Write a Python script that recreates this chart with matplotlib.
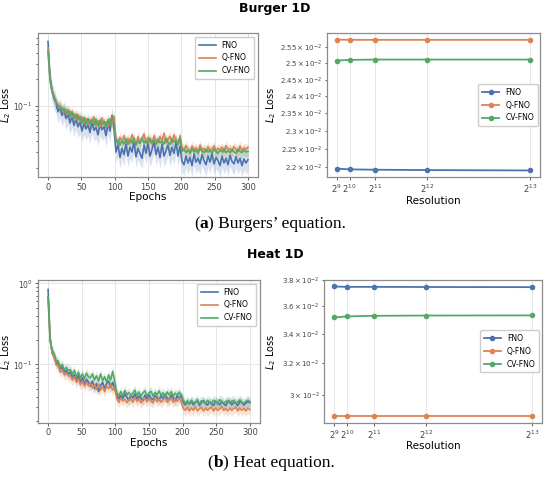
import numpy as np
import matplotlib
matplotlib.use("Agg")
import matplotlib.pyplot as plt

# ---------------- data ----------------
epochs = list(range(0, 301, 3))
models = ["FNO", "Q-FNO", "CV-FNO"]

# Burgers training loss (x1e-3), every 3 epochs
burger_fno = [540, 215, 150, 122, 108, 86, 98, 78, 90, 72,
              82, 64, 76, 60, 72, 58, 66, 52, 63, 55,
              61, 50, 66, 53, 57, 47, 62, 54, 58, 46,
              64, 52, 78, 55, 30, 36, 26, 33, 28, 37,
              27, 34, 30, 39, 26.5, 33, 29, 25.5, 36, 29,
              38, 27, 32, 40, 28, 34, 26, 37, 27, 31,
              36, 27.5, 34, 29, 39, 27, 35, 23.5, 21.5, 27,
              22.5, 26, 21, 28.5, 23, 25.5, 22, 28, 24, 21.5,
              27, 23, 28.5, 22, 26, 24, 21, 27, 22.5, 25.5,
              21.5, 27.5, 23.5, 22, 26.5, 22.5, 25.5, 21, 25, 22.5,
              24.5]
burger_q = [460, 195, 150, 130, 108, 104, 94, 96, 84, 92,
            80, 88, 74, 82, 70, 80, 66, 75, 63, 72,
            62, 70, 64, 75, 60, 68, 58, 73, 62, 66,
            58, 72, 64, 76, 42, 37, 44, 39, 46, 37.5,
            43, 38, 47, 40, 36.5, 45, 39, 42, 48, 38,
            44, 39, 37, 46, 41, 38.5, 45, 40, 49, 38,
            42, 45, 38, 47, 40, 37, 46, 34, 31, 35.5,
            32, 30.5, 35, 31.5, 33.5, 30, 36, 31, 33, 30,
            34.5, 31, 32.5, 35, 30.5, 33, 31.5, 34, 30, 35.5,
            31.5, 33, 30.5, 34.5, 32, 30, 35, 31, 33.5, 32,
            34]
burger_cv = [420, 205, 145, 126, 112, 98, 100, 88, 94, 82,
             90, 76, 86, 72, 80, 70, 76, 64, 74, 62,
             72, 62, 70, 60, 71, 59, 69, 61, 67, 57,
             70, 60, 76, 63, 38.5, 41, 36, 40.5, 37, 42,
             36.5, 41.5, 38, 43, 36, 40, 37.5, 43.5, 38, 40.5,
             37, 43, 38.5, 41, 36.5, 42, 38, 40, 37, 43,
             38.5, 36.5, 42, 39, 41.5, 36.5, 43, 30.5, 32.5, 29.5,
             31.5, 29, 32.5, 30, 31.5, 29, 33, 30.5, 29.5, 32,
             30, 31.5, 29, 32.5, 30.5, 29, 31.5, 30, 32.5, 29.5,
             31, 29.5, 32, 30, 29, 32.5, 30.5, 29.5, 31.5, 30,
             30.5]

# Heat training loss (x1e-3), every 3 epochs
heat_fno = [840, 205, 140, 125, 104, 102, 88, 92, 80, 84,
            76, 80, 70, 74, 64, 72, 60, 68, 57, 65,
            60, 54, 62, 50, 58, 46, 55, 60, 50, 58,
            62, 52, 60, 50, 42, 37.5, 41, 38, 43, 39.5,
            36, 41, 38.5, 43, 37, 40.5, 38, 35.5, 41.5, 37.5,
            42, 38, 36.5, 41, 39, 36, 41.5, 37.5, 42.5, 38,
            36.5, 41.5, 38.5, 35.5, 41, 37.5, 42, 34, 31.5, 34.5,
            32, 35, 31.5, 34, 35, 31, 34, 35.5, 32.5, 31.5,
            34.5, 32.5, 31, 35, 33.5, 31.5, 34.5, 32.5, 31, 34,
            35, 31.5, 34, 33, 31, 34.5, 33.5, 31.5, 33, 34.5,
            33.5]
heat_q = [680, 215, 135, 124, 98, 96, 80, 86, 74, 78,
          72, 72, 64, 70, 60, 66, 56, 62, 54, 60,
          54, 58, 51, 56, 49, 57, 48, 53, 46, 54,
          50, 56, 48, 52, 38, 34, 38.5, 35.5, 37, 33.5,
          36.5, 38, 34, 39, 35, 37.5, 33.5, 36, 38.5, 34.5,
          38, 35, 33.5, 39, 34.5, 37.5, 34, 36.5, 39, 34,
          36.5, 38, 34, 37, 35, 38.5, 34.5, 28.5, 27, 29.5,
          26.5, 29, 27, 30, 26.5, 28.5, 29.5, 26.5, 29, 27,
          28.5, 29.5, 26.5, 29, 27, 28, 30, 27, 28.5, 26.5,
          29, 27, 28.5, 29.5, 26.5, 29, 27, 28.5, 26.5, 29,
          27.5]
heat_cv = [680, 195, 150, 135, 112, 110, 92, 100, 84, 92,
           84, 86, 76, 84, 70, 80, 68, 76, 66, 78,
           70, 68, 76, 64, 72, 62, 76, 63, 70, 60,
           74, 64, 82, 62, 45, 40.5, 46, 41, 47.5, 42,
           45, 40.5, 44, 48, 41, 45.5, 40, 44.5, 47, 41,
           44, 46.5, 40.5, 45, 42, 47, 41, 44.5, 40, 45.5,
           42, 46, 40.5, 44, 41.5, 45.5, 40.5, 36, 33, 35.5,
           32.5, 36, 33.5, 34, 36.5, 32.5, 35.5, 34, 32.5, 36,
           34, 33, 36, 34.5, 32.5, 36.5, 35, 33, 34.5, 36,
           33, 35, 36, 33, 34.5, 36.5, 34, 33, 35, 36,
           34.5]

# relative spread of shaded band per series
burger_spread = [0.25, 0.14, 0.14]
heat_spread = [0.13, 0.15, 0.15]

# Resolution study
resolutions = [512, 1024, 2048, 4096, 8192]
res_labels = ["$2^{9}$", "$2^{10}$", "$2^{11}$", "$2^{12}$", "$2^{13}$"]
burger_res_fno = [0.02195, 0.02193, 0.02192, 0.02191, 0.02190]
burger_res_q = [0.02575, 0.02574, 0.02574, 0.02574, 0.02574]
burger_res_cv = [0.02509, 0.02511, 0.02512, 0.02512, 0.02512]
heat_res_fno = [0.03750, 0.03747, 0.03747, 0.03746, 0.03745]
heat_res_q = [0.02870, 0.02870, 0.02870, 0.02870, 0.02870]
heat_res_cv = [0.03518, 0.03526, 0.03530, 0.03532, 0.03533]

colors = ["#4c72b0", "#dd8452", "#55a868"]

# ---------------- figure ----------------
W, H = 550, 482
fig = plt.figure(figsize=(W / 100, H / 100), dpi=100)


def style(ax):
    for s in ax.spines.values():
        s.set_color("#8c8c8c")
        s.set_linewidth(0.9)
    ax.tick_params(which="both", labelsize=6, colors="#444444", length=2, width=0.6, pad=2)
    ax.tick_params(which="minor", length=1.5)
    ax.grid(True, color="#e6e6e6", linewidth=0.7)
    ax.set_axisbelow(True)


def ax_box(x0, y0, x1, y1):
    return fig.add_axes([x0 / W, 1 - y1 / H, (x1 - x0) / W, (y1 - y0) / H])


def train_panel(ax, series, spreads, ylim, ylab_x):
    ep = np.array(epochs)
    for name, vals, c, s in zip(models, series, colors, spreads):
        v = np.array(vals) * 1e-3
        ax.fill_between(ep, v * (1 - s), v * (1 + s), color=c, alpha=0.2, linewidth=0)
        ax.plot(ep, v, color=c, lw=1.2, label=name)
    ax.set_yscale("log")
    ax.set_ylim(*ylim)
    ax.set_xlim(-15, 315)
    ax.set_xticks([0, 50, 100, 150, 200, 250, 300])
    ax.set_xlabel("Epochs", fontsize=7.5, labelpad=0.5)
    ax.set_ylabel("$L_2$ Loss", fontsize=7)
    ax.yaxis.set_label_coords(ylab_x, 0.5)
    style(ax)
    ax.tick_params(axis="y", which="both", labelsize=5.5)
    ax.legend(loc="upper right", fontsize=5.5, framealpha=1, edgecolor="#cccccc",
              handlelength=2.2, borderpad=0.5, labelspacing=0.5)


def res_panel(ax, series, ylab_x):
    for name, vals, c in zip(models, series, colors):
        ax.plot(resolutions, vals, color=c, lw=1.3, marker="o", markersize=3, label=name)
    ax.set_yscale("log")
    ax.set_xticks(resolutions)
    ax.set_xticklabels(res_labels)
    ax.set_xlabel("Resolution", fontsize=7.5, labelpad=0.5)
    ax.set_ylabel("$L_2$ Loss", fontsize=7)
    ax.yaxis.set_label_coords(ylab_x, 0.5)
    style(ax)
    ax.tick_params(axis="y", which="both", labelsize=5)
    ax.legend(loc="center right", fontsize=5.5, framealpha=1, edgecolor="#cccccc",
              handlelength=2.2, borderpad=0.5, labelspacing=0.5, borderaxespad=0.3)


a1 = ax_box(38, 33, 258, 177)
train_panel(a1, [burger_fno, burger_q, burger_cv], burger_spread, (0.0156, 0.675), -0.112)
a2 = ax_box(327, 33, 540, 177)
res_panel(a2, [burger_res_fno, burger_res_q, burger_res_cv], -0.228)
a3 = ax_box(38, 280, 260, 422.7)
train_panel(a3, [heat_fno, heat_q, heat_cv], heat_spread, (0.019, 1.1), -0.111)
a4 = ax_box(324.3, 280, 541.7, 422.7)
res_panel(a4, [heat_res_fno, heat_res_q, heat_res_cv], -0.215)

fig.text(0.5, 1 - 8.5 / H, "Burger 1D", ha="center", va="center", fontsize=9, fontweight="bold")
fig.text(0.5, 1 - 254.7 / H, "Heat 1D", ha="center", va="center", fontsize=9, fontweight="bold")

serif = ["Liberation Serif", "DejaVu Serif"]
CAP = 12.5


def caption(y, tag, rest):
    t1 = fig.text(0.5, 1 - y / H, f"({tag}) " + rest, ha="center", va="center",
                  fontsize=CAP, family=serif, fontweight="bold", alpha=0)
    fig.canvas.draw()
    bb = t1.get_window_extent()
    x0 = bb.x0 / W
    ta = fig.text(x0, 1 - y / H, "(", ha="left", va="center", fontsize=CAP, family=serif)
    fig.canvas.draw()
    b = ta.get_window_extent()
    tb = fig.text(b.x1 / W, 1 - y / H, tag, ha="left", va="center", fontsize=CAP,
                  family=serif, fontweight="bold")
    fig.canvas.draw()
    b = tb.get_window_extent()
    fig.text(b.x1 / W, 1 - y / H, ") " + rest, ha="left", va="center", fontsize=CAP, family=serif)


caption(224, "a", "Burgers\u2019 equation.")
caption(463, "b", "Heat equation.")

fig.savefig("out.png", dpi=100)
